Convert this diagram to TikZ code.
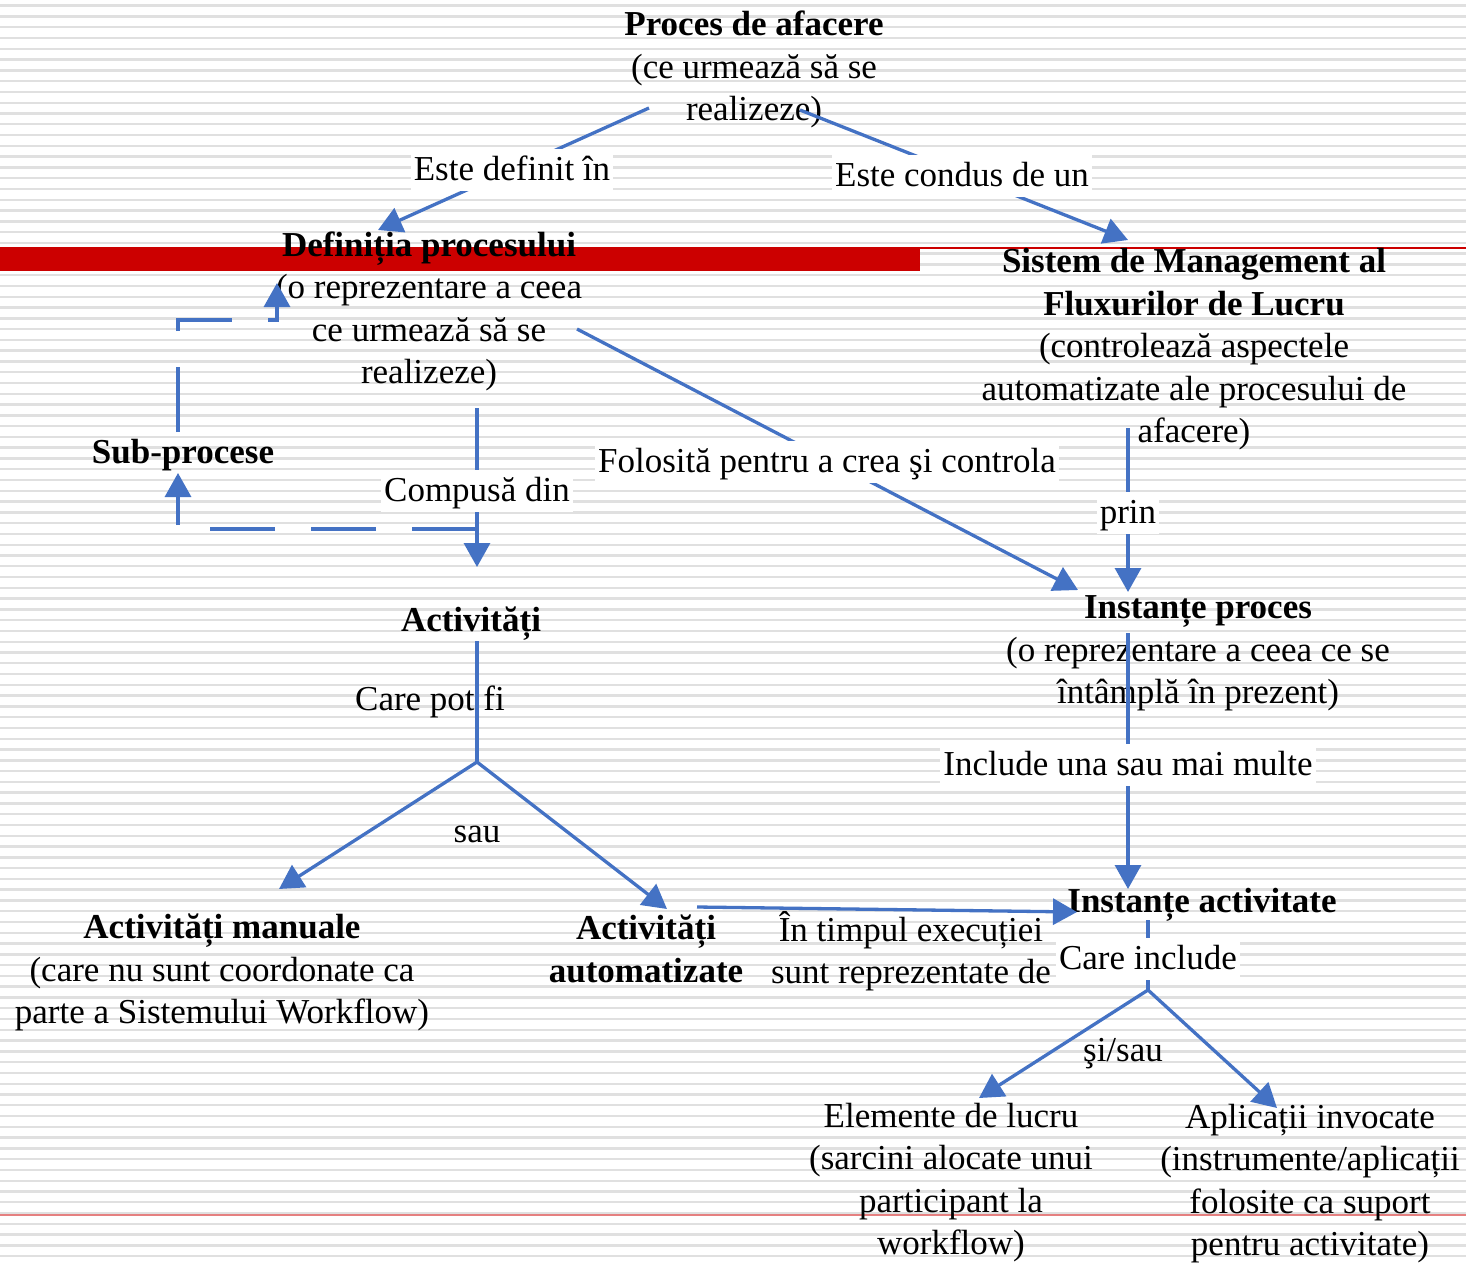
\documentclass[tikz,border=0pt]{standalone}
\usepackage{fontspec}
\setmainfont{Liberation Serif}
\usetikzlibrary{arrows.meta}
\definecolor{flowblue}{RGB}{68,114,196}
\definecolor{barred}{RGB}{204,0,0}
\definecolor{rulegray}{RGB}{224,224,224}

\begin{document}
\begin{tikzpicture}[x=1pt,y=-1pt,
  txt/.style={font=\fontsize{35}{42.5}\selectfont, align=center, inner sep=0pt},
  lbl/.style={txt, fill=white, text height=31pt, text depth=11pt, inner xsep=3pt},
  plain/.style={draw=flowblue, line width=3.3pt},
  link/.style={plain, -{Triangle[length=24pt,width=26pt]}},
  dlink/.style={link, dash pattern=on 65pt off 36pt}
]
\useasboundingbox (0,0) rectangle (1466,1263);

% lined paper background
\fill[white] (0,0) rectangle (1466,1263);
\foreach \k in {0,...,116}
  \draw[rulegray, line width=2.4pt] (0,{5.7+10.78*\k}) -- (1466,{5.7+10.78*\k});
\fill[barred] (0,247) rectangle (920,271);
\draw[barred, line width=1.6pt] (920,247.8) -- (1466,247.8);
\draw[barred!50, line width=1.6pt] (0,1215) -- (1466,1215);

% concepts
\node[txt] (proc) at (754,69.5) {\textbf{Proces de afacere}\\(ce urmează să se\\realizeze)};
\node[txt] (def) at (429,311.5) {\textbf{Definiția procesului}\\(o reprezentare a ceea\\ce urmează să se\\realizeze)};
\node[txt] (wfms) at (1194,349.5) {\textbf{Sistem de Management al}\\\textbf{Fluxurilor de Lucru}\\(controlează aspectele\\automatizate ale procesului de\\afacere)};
\node[txt] (sub) at (183,455.5) {\textbf{Sub-procese}};
\node[txt] (act) at (471,623.5) {\textbf{Activități}};
\node[txt] (pinst) at (1198,653.5) {\textbf{Instanțe proces}\\(o reprezentare a ceea ce se\\întâmplă în prezent)};
\node[txt] (man) at (222,972.5) {\textbf{Activități manuale}\\(care nu sunt coordonate ca\\parte a Sistemului Workflow)};
\node[txt] (auto) at (646,949) {\textbf{Activități}\\\textbf{automatizate}};
\node[txt] (ainst) at (1202,905) {\textbf{Instanțe activitate}};
\node[txt] (work) at (951,1182.5) {Elemente de lucru\\(sarcini alocate unui\\participant la\\workflow)};
\node[txt] (apps) at (1310,1183.5) {Aplicații invocate\\(instrumente/aplicații\\folosite ca suport\\pentru activitate)};

% connector ends
\coordinate (proc-l) at (649,108);
\coordinate (proc-r) at (800,110);
\coordinate (def-in) at (378,230);
\coordinate (wfms-in) at (1128,240);
\coordinate (def-r) at (577,329);
\coordinate (pinst-l) at (1078,590);
\coordinate (def-b) at (477,408);
\coordinate (act-in) at (477,567);
\coordinate (comp) at (477,529);
\coordinate (sub-in) at (178,473);
\coordinate (sub-t) at (178,432);
\coordinate (loop) at (277,320);
\coordinate (def-ret) at (277,283);
\coordinate (act-b) at (477,641);
\coordinate (fork) at (477,762);
\coordinate (man-in) at (279,889);
\coordinate (auto-in) at (667,909);
\coordinate (auto-r) at (697,907);
\coordinate (ainst-l) at (1077,912);
\coordinate (wfms-b) at (1128,428);
\coordinate (pinst-t) at (1128,592);
\coordinate (pinst-b) at (1128,633);
\coordinate (ainst-t) at (1128,889);
\coordinate (ainst-b) at (1148,920);
\coordinate (fork2) at (1148,990);
\coordinate (work-in) at (979,1098);
\coordinate (apps-in) at (1277,1108);

% connectors
\draw[link] (proc-l) -- (def-in);
\draw[link] (proc-r) -- (wfms-in);
\draw[link] (def-r) -- (pinst-l);
\draw[link] (def-b) -- (act-in);
\draw[dlink] (comp) -| (sub-in);
\draw[dlink] (sub-t) |- (loop) -- (def-ret);
\draw[plain] (act-b) -- (fork);
\draw[link] (fork) -- (man-in);
\draw[link] (fork) -- (auto-in);
\draw[link] (auto-r) -- (ainst-l);
\draw[link] (wfms-b) -- (pinst-t);
\draw[link] (pinst-b) -- (ainst-t);
\draw[plain] (ainst-b) -- (fork2);
\draw[link] (fork2) -- (work-in);
\draw[link] (fork2) -- (apps-in);

% connector labels
\node[lbl] (l-def) at (512,170) {Este definit în};
\node[lbl] (l-cond) at (962,176) {Este condus de un};
\node[lbl] (l-use) at (827,462) {Folosită pentru a crea şi controla};
\node[lbl] (l-comp) at (477,491) {Compusă din};
\node[lbl] (l-prin) at (1128,513) {prin};
\node[lbl] (l-incl) at (1128,765) {Include una sau mai multe};
\node[lbl] (l-care) at (1148,959) {Care include};
\node[txt] (l-pot) at (430,701.5) {Care pot fi};
\node[txt] (l-sau) at (477,834) {sau};
\node[txt] (l-exec) at (911,951) {În timpul execuției\\sunt reprezentate de};
\node[txt] (l-si) at (1123,1054) {şi/sau};
\end{tikzpicture}
\end{document}
